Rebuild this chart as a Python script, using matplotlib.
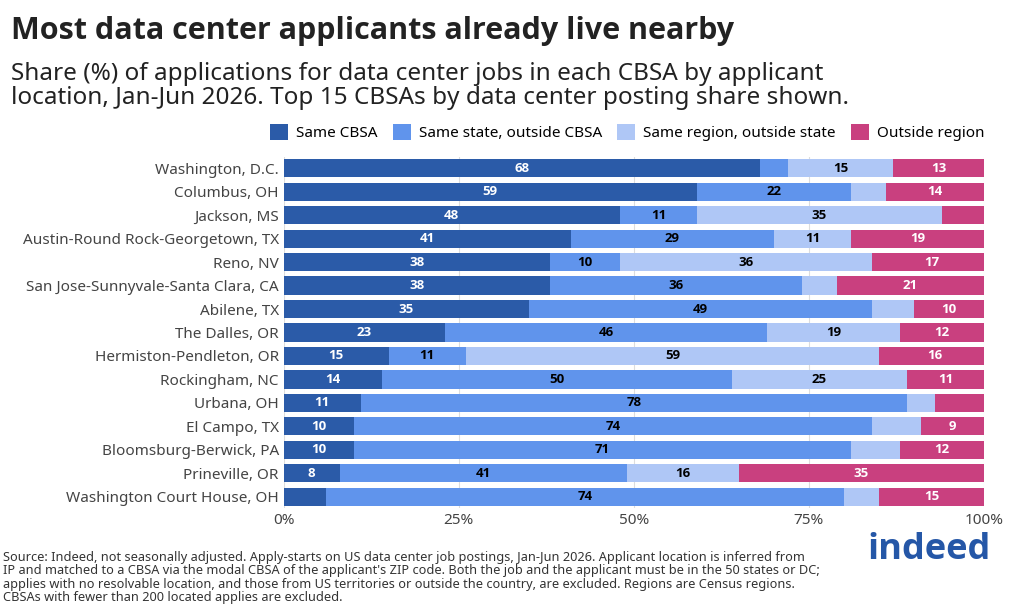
import matplotlib.pyplot as plt
import numpy as np

plt.rcParams['font.family'] = ['Noto Sans', 'DejaVu Sans']
BOLD = ['Open Sans', 'DejaVu Sans']

cbsas = ["Washington, D.C.", "Columbus, OH", "Jackson, MS", "Austin-Round Rock-Georgetown, TX",
         "Reno, NV", "San Jose-Sunnyvale-Santa Clara, CA", "Abilene, TX", "The Dalles, OR",
         "Hermiston-Pendleton, OR", "Rockingham, NC", "Urbana, OH", "El Campo, TX",
         "Bloomsburg-Berwick, PA", "Prineville, OR", "Washington Court House, OH"]
same_cbsa = [68, 59, 48, 41, 38, 38, 35, 23, 15, 14, 11, 10, 10, 8, 6]
same_state = [4, 22, 11, 29, 10, 36, 49, 46, 11, 50, 78, 74, 71, 41, 74]
same_region = [15, 5, 35, 11, 36, 5, 6, 19, 59, 25, 4, 7, 7, 16, 5]
outside = [13, 14, 6, 19, 17, 21, 10, 12, 16, 11, 7, 9, 12, 35, 15]
series_names = ["Same CBSA", "Same state, outside CBSA", "Same region, outside state", "Outside region"]

colors = ["#2B5BA8", "#6094EC", "#AFC7F6", "#C9407F"]
txt_colors = ["white", "black", "black", "white"]

fig = plt.figure(figsize=(10.24, 6.14), dpi=100)
ax = fig.add_axes([0.277, 0.172, 0.684, 0.573])
y = np.arange(len(cbsas))
left = np.zeros(len(cbsas))
for vals, c, tc, name in zip([same_cbsa, same_state, same_region, outside], colors, txt_colors, series_names):
    vals = np.array(vals, dtype=float)
    ax.barh(y, vals, left=left, color=c, height=0.78, label=name, zorder=2)
    for yi, (l, v) in enumerate(zip(left, vals)):
        if v >= 8:
            ax.text(l + v / 2, yi, f"{int(v)}", ha="center", va="center", color=tc,
                    fontsize=9.5, fontweight="bold", family=BOLD, zorder=3)
    left += vals

ax.set_xlim(0, 100)
ax.set_ylim(len(cbsas) - 0.5, -0.5)
ax.set_yticks(y)
ax.set_yticklabels(cbsas, fontsize=11, color="#444444")
ax.set_xticks([0, 25, 50, 75, 100])
ax.set_xticklabels(["0%", "25%", "50%", "75%", "100%"], fontsize=11, color="#444444")
ax.tick_params(length=0)
ax.grid(axis="x", color="#dddddd", zorder=0)
for s in ax.spines.values():
    s.set_visible(False)

ax.legend(loc="lower right", bbox_to_anchor=(1.02, 1.005), ncol=4, frameon=False, fontsize=11,
          handlelength=1.2, handleheight=1.2, columnspacing=1.0, handletextpad=0.5)

fig.text(0.011, 0.95, "Most data center applicants already live nearby", fontsize=22,
         fontweight="bold", family=BOLD, color="#222222", va="center")
fig.text(0.011, 0.86, "Share (%) of applications for data center jobs in each CBSA by applicant\n"
         "location, Jan-Jun 2026. Top 15 CBSAs by data center posting share shown.",
         fontsize=17.5, color="#222222", va="center", linespacing=1.0)
fig.text(0.003, 0.016, "Source: Indeed, not seasonally adjusted. Apply-starts on US data center job postings, Jan-Jun 2026. Applicant location is inferred from\n"
         "IP and matched to a CBSA via the modal CBSA of the applicant's ZIP code. Both the job and the applicant must be in the 50 states or DC;\n"
         "applies with no resolvable location, and those from US territories or outside the country, are excluded. Regions are Census regions.\n"
         "CBSAs with fewer than 200 located applies are excluded.", fontsize=9.2, color="#333333", va="bottom",
         linespacing=1.05)
fig.text(0.967, 0.105, "indeed", fontsize=26, fontweight="bold", family=BOLD, color="#2557A7",
         ha="right", va="center")

fig.savefig("out.png", dpi=100)
